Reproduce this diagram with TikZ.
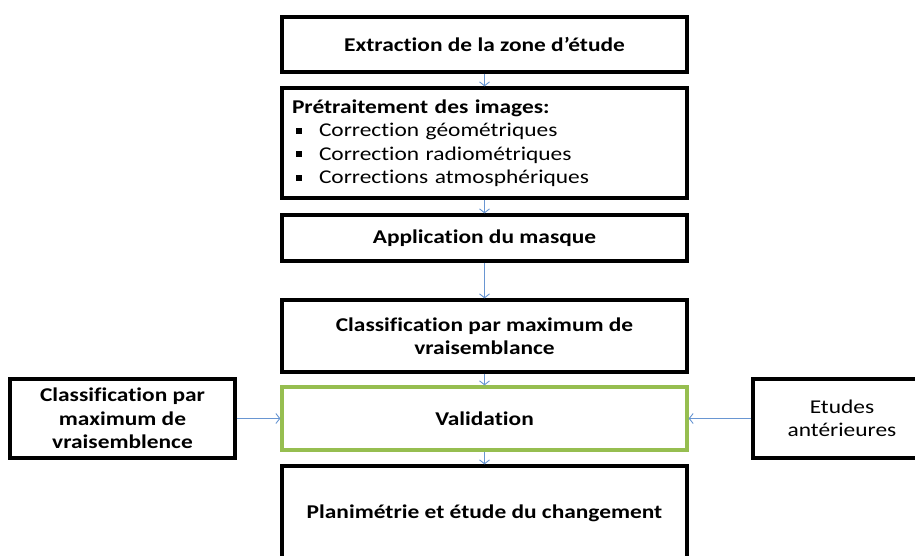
\documentclass[tikz,border=0pt]{standalone}
\usepackage{fontspec}
\setmainfont{Carlito}[FakeStretch=1.2, Ligatures=NoCommon]
\usetikzlibrary{arrows.meta}
\definecolor{flowblue}{RGB}{105,150,210}
\definecolor{valgreen}{RGB}{150,190,80}
\newcommand\puce{\hspace*{4pt}\rule[3pt]{6pt}{6pt}\hspace*{17pt}}

\begin{document}
\begin{tikzpicture}[x=1pt,y=-1pt,
        box/.style={draw, line width=3.2pt, align=center, inner sep=0pt,
            font=\bfseries\fontsize{19.5}{23.5}\selectfont},
        flow/.style={draw=flowblue, line width=0.9pt, -{Straight Barb[length=4pt,width=10pt]}}]
        \useasboundingbox (0,0) rectangle (915,556);
        \clip (0,0) rectangle (915,556);
        \node [box, minimum width=405pt, minimum height=55pt] (extraction) at (484.5,44.5) {Extraction de la zone d’étude};
        \node [box, minimum width=405pt, minimum height=110pt, text width=385pt, align=left] (pretraitement) at (484.5,143)
            {Prétraitement des images:\\
            \mdseries\puce Correction géométriques\\
            \mdseries\puce Correction radiométriques\\
            \mdseries\puce Corrections atmosphériques};
        \node [box, minimum width=405pt, minimum height=46pt] (masque) at (484.5,238) {Application du masque};
        \node [box, minimum width=405pt, minimum height=72pt] (classif) at (484.5,336) {Classification par maximum de\\ vraisemblance};
        \node [box, draw=valgreen, minimum width=405pt, minimum height=63pt] (validation) at (484.5,418.5) {Validation};
        \node [box, minimum width=405pt, minimum height=94pt] (planimetrie) at (484.5,513) {Planimétrie et étude du changement};
        \node [box, minimum width=225pt, minimum height=79pt] (classifext) at (122.5,418.5) {Classification par\\ maximum de\\ vraisemblence};
        \node [box, font=\fontsize{19.5}{23.5}\selectfont, minimum width=178pt, minimum height=79pt] (etudes) at (842,418.5) {Etudes\\ antérieures};
        \draw [flow] (extraction) -- (pretraitement);
        \draw [flow] (pretraitement) -- (masque);
        \draw [flow] (masque) -- (classif);
        \draw [flow] (classif) -- (validation);
        \draw [flow] (validation) -- (planimetrie);
        \draw [flow] (classifext) -- (validation);
        \draw [flow] (etudes) -- (validation);
    \end{tikzpicture}
\end{document}
